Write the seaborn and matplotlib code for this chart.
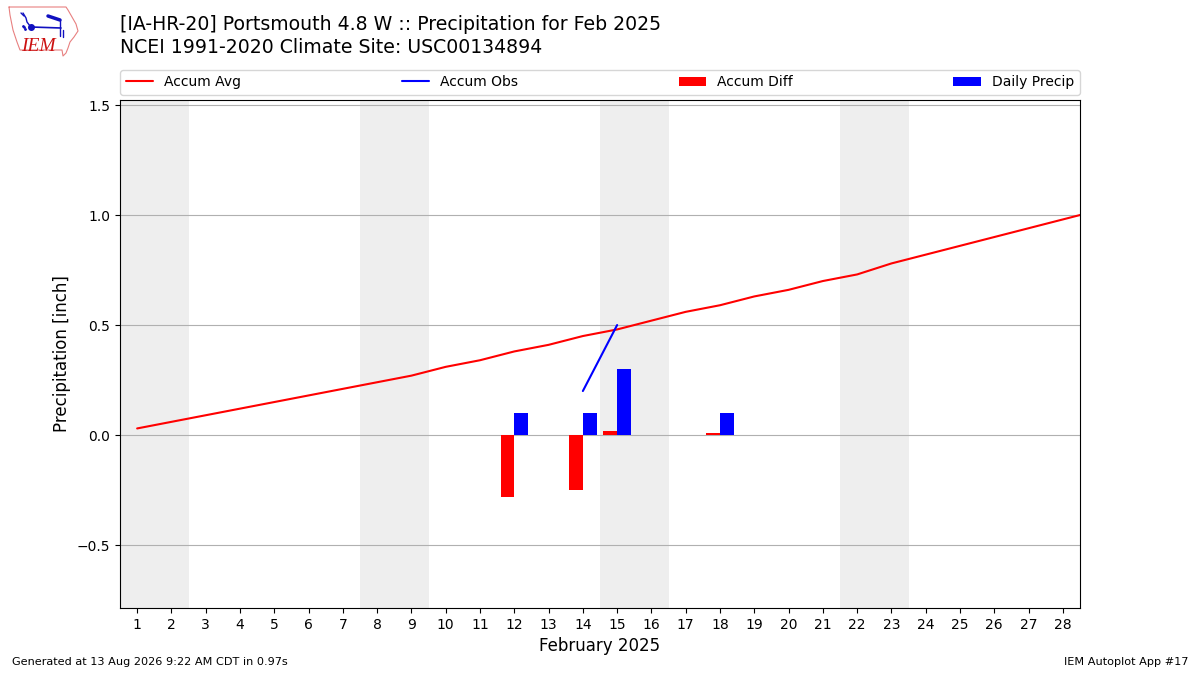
import numpy as np
import pandas as pd
import seaborn as sns
import matplotlib.pyplot as plt

# day 29 is the start of the next month, only there so the line runs to the edge
days = list(range(1, 29))
avg_days = list(range(1, 30))
accum_avg = [0.03, 0.06, 0.09, 0.12, 0.15, 0.18, 0.21, 0.24, 0.27, 0.31,
             0.34, 0.38, 0.41, 0.45, 0.48, 0.52, 0.56, 0.59, 0.63, 0.66,
             0.70, 0.73, 0.78, 0.82, 0.86, 0.90, 0.94, 0.98, 1.02]
obs_days = [12, 14, 15, 18]
daily_precip = [0.10, 0.10, 0.30, 0.10]
accum_obs = [0.10, 0.20, 0.50, 0.60]
accum_diff = [-0.28, -0.25, 0.02, 0.01]
weekends = [1, 8, 15, 22]

# accum obs only where obs exist; line only joins consecutive days
obs_series = pd.Series(np.nan, index=avg_days)
obs_series[obs_days] = accum_obs
df = pd.DataFrame({"day": avg_days, "avg": accum_avg, "obs": obs_series.values})

sns.set_style("white", {"text.color": "black", "axes.labelcolor": "black",
                        "xtick.color": "black", "ytick.color": "black",
                        "axes.edgecolor": "black"})
plt.rcParams["font.family"] = ["DejaVu Sans"]

fig = plt.figure(figsize=(12, 6.75), dpi=100)
ax = fig.add_axes([0.1, 0.0993, 0.8, 0.7526])

for d in weekends:
    ax.axvspan(d - 0.5, d + 1.5, color="#eeeeee", lw=0, zorder=0)

sns.lineplot(data=df, x="day", y="avg", color="red", lw=1.5, ax=ax, label="Accum Avg")
ax.plot(df["day"], df["obs"], color="blue", lw=1.5, label="Accum Obs")
ax.bar(obs_days, accum_diff, width=-0.4, align="edge", color="red", lw=0,
       label="Accum Diff", zorder=3)
ax.bar(obs_days, daily_precip, width=0.4, align="edge", color="blue", lw=0,
       label="Daily Precip", zorder=3)

ax.set_xlim(0.5, 28.5)
ax.set_ylim(-0.786, 1.523)
ax.set_xticks(days)
ax.set_yticks([-0.5, 0.0, 0.5, 1.0, 1.5])
ax.yaxis.grid(True, color="#b0b0b0", lw=0.8)
ax.set_axisbelow(True)
ax.tick_params(axis="both", labelsize=10, length=3.5, direction="out", bottom=True, left=True)
ax.set_xlabel("February 2025", fontsize=12)
ax.set_ylabel("Precipitation [inch]", fontsize=12)

ax.legend(loc="lower left", bbox_to_anchor=(0, 1.01, 1, 0.05), ncol=4, mode="expand",
          fontsize=10, frameon=True, borderaxespad=0)

fig.text(0.1, 0.964, "[IA-HR-20] Portsmouth 4.8 W :: Precipitation for Feb 2025",
         fontsize=13.6, va="center")
fig.text(0.1, 0.93, "NCEI 1991-2020 Climate Site: USC00134894", fontsize=13.6, va="center")
fig.text(0.01, 0.015, "Generated at 13 Aug 2026 9:22 AM CDT in 0.97s", fontsize=8.1)
fig.text(0.99, 0.015, "IEM Autoplot App #17", fontsize=8.1, ha="right")

# rough IEM logo, drawn in pixel space
lax = fig.add_axes([0, 0, 1, 1], zorder=-1)
lax.set_xlim(0, 1200)
lax.set_ylim(675, 0)
lax.axis("off")
iowa_x = [9, 66, 68, 72, 76, 78, 74, 70, 68, 66, 63, 62, 20, 17, 13, 10, 9]
iowa_y = [7, 7, 10, 17, 24, 31, 37, 42, 48, 53, 56, 50, 50, 42, 30, 15, 7]
lax.plot(iowa_x, iowa_y, color="#e88080", lw=0.8)
lax.text(21, 51, "IEM", color="#cc1111", fontsize=14, family="Liberation Serif",
         style="italic")
lax.plot([31, 61], [27, 28], color="#1010c0", lw=1.2)
lax.plot([31], [27], "o", color="#1010c0", ms=4)
lax.plot([23, 26, 27, 30], [13, 18, 22, 26], color="#1010c0", lw=1)
lax.plot([21, 24], [13, 16], color="#1010c0", lw=1)
lax.plot([48, 57, 60], [16, 19, 20], color="#1010c0", lw=2.5)
lax.plot([60, 60], [20, 36], color="#1010c0", lw=1)
lax.plot([63, 63], [30, 37], color="#1010c0", lw=1)
lax.plot([23, 25, 24], [26, 29, 27], ".", color="#1010c0", ms=2)

fig.savefig("out.png", dpi=100)
